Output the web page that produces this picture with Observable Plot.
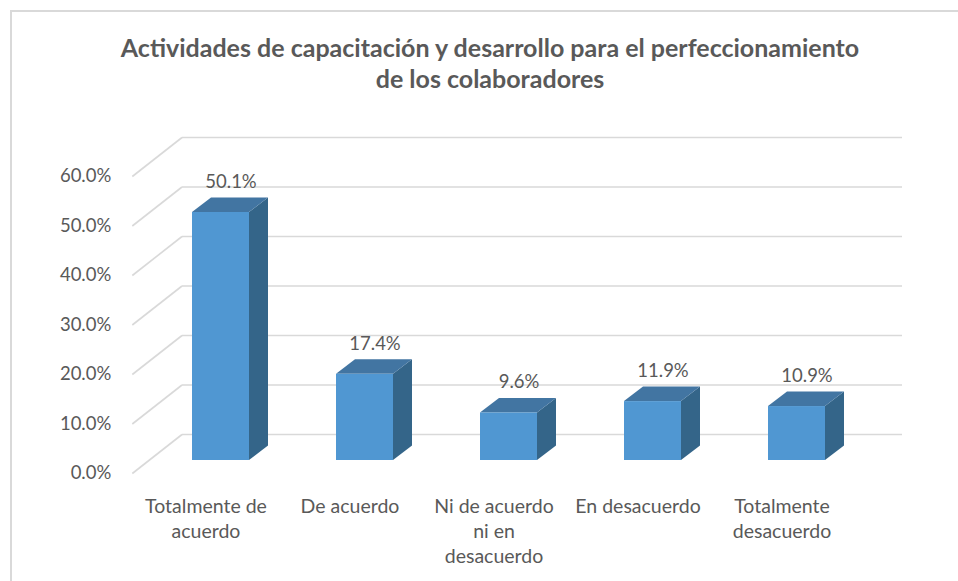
<!DOCTYPE html>
<html>
<head>
<meta charset="utf-8">
<script src="https://cdn.jsdelivr.net/npm/d3@7"></script>
<script src="https://cdn.jsdelivr.net/npm/@observablehq/plot@0.6"></script>
<style>
  html, body { margin: 0; padding: 0; background: #ffffff; }
  #wrap { position: relative; width: 958px; height: 581px; overflow: hidden; font-family: Lato, "Open Sans", sans-serif; }
  #frame { position: absolute; left: 10px; top: 10px; width: 1000px; height: 700px; border: 2px solid #d9d9d9; box-sizing: border-box; }
  #title { position: absolute; left: 0; top: 32px; width: 980px; text-align: center; font-weight: bold; font-size: 25px; line-height: 31px; color: #595959; }
  #chart { position: absolute; left: 0; top: 0; }
</style>
</head>
<body>
<div id="wrap">
  <div id="frame"></div>
  <div id="chart"></div>
  <div id="title">Actividades de capacitación y desarrollo para el perfeccionamiento<br>de los colaboradores</div>
</div>
<script>
// ---- data ----
const categories = ["Totalmente de\nacuerdo", "De acuerdo", "Ni de acuerdo\nni en\ndesacuerdo", "En desacuerdo", "Totalmente\ndesacuerdo"];
const values = [50.1, 17.4, 9.6, 11.9, 10.9];
const yTicks = [0, 10, 20, 30, 40, 50, 60];
const yTickLabels = ["0.0%", "10.0%", "20.0%", "30.0%", "40.0%", "50.0%", "60.0%"];

// ---- projection helpers (pixel depth offsets converted to data units) ----
const xDomain = [-0.5, 4.5], xRange = [148.5, 868.5];
const yDomain = [0, 60], yRange = [460, 163];
const pxX = (xRange[1] - xRange[0]) / (xDomain[1] - xDomain[0]); // px per category unit
const pxY = (yRange[0] - yRange[1]) / (yDomain[1] - yDomain[0]); // px per percent
const ux = px => px / pxX;
const uy = px => px / pxY; // upward px -> percent

const hw = ux(28.5);            // half bar width
const depthX = ux(19), depthY = uy(14.5); // bar depth
const backX = ux(33), backY = uy(26);     // back wall offset
const frontX = ux(-16.7), frontY = uy(-13); // front (axis) plane offset

const bars = categories.map((c, i) => ({i, c, v: values[i], label: values[i].toFixed(1) + "%"}));
const sideData = bars.flatMap(d => [
  {i: d.i, x: d.i + hw, y1: 0, y2: d.v},
  {i: d.i, x: d.i + hw + depthX, y1: depthY, y2: d.v + depthY}
]);
const topData = bars.flatMap(d => [
  {i: d.i, y: d.v, x1: d.i - hw, x2: d.i + hw},
  {i: d.i, y: d.v + depthY, x1: d.i - hw + depthX, x2: d.i + hw + depthX}
]);
const ticks = yTicks.map((t, k) => ({t, label: yTickLabels[k]}));

const chart = Plot.plot({
  width: 958,
  height: 581,
  x: {type: "linear", domain: xDomain, range: xRange, axis: null},
  y: {type: "linear", domain: yDomain, range: yRange, axis: null},
  style: {fontFamily: "Lato, 'Open Sans', sans-serif", fontSize: "18.5px", color: "#595959", background: "transparent", overflow: "visible"},
  marks: [
    // back wall gridlines
    Plot.link(ticks, {x1: xDomain[0] + backX, x2: xDomain[1] + backX, y1: d => d.t + backY, y2: d => d.t + backY, stroke: "#d9d9d9", strokeWidth: 1.6}),
    // side wall diagonals
    Plot.link(ticks, {x1: xDomain[0] + frontX, x2: xDomain[0] + backX, y1: d => d.t + frontY, y2: d => d.t + backY, stroke: "#d9d9d9", strokeWidth: 1.6}),
    // bars
    Plot.areaY(sideData, {x: "x", y1: "y1", y2: "y2", z: "i", fill: "#346589"}),
    Plot.areaX(topData, {y: "y", x1: "x1", x2: "x2", z: "i", fill: "#4275a2"}),
    Plot.rect(bars, {x1: d => d.i - hw, x2: d => d.i + hw, y1: 0, y2: "v", fill: "#5097d2"}),
    // value labels
    Plot.text(bars, {x: "i", y: "v", text: "label", dx: 10, dy: -24.5, lineAnchor: "bottom", fill: "#595959"}),
    // y tick labels
    Plot.text(ticks, {x: xDomain[0] + frontX, y: d => d.t + frontY, text: "label", textAnchor: "end", dx: -21, fill: "#595959"}),
    // category labels
    Plot.text(bars, {x: "i", y: 0, text: "c", dx: -15, dy: 34, lineAnchor: "top", lineHeight: 1.3, fontSize: 19.5, fill: "#595959"})
  ]
});
document.getElementById("chart").appendChild(chart);
</script>
</body>
</html>
